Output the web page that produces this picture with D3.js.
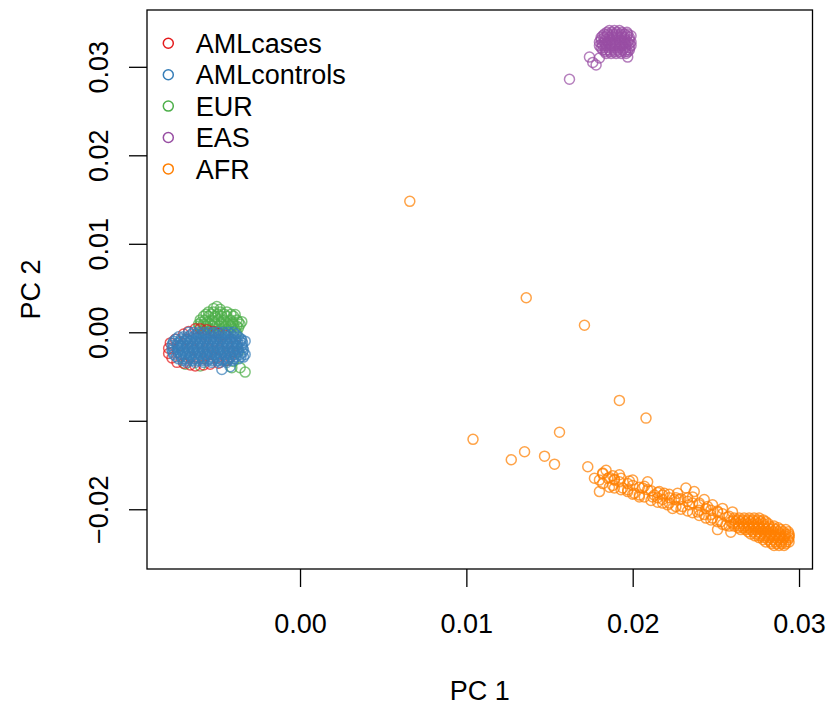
<!DOCTYPE html>
<html>
<head>
<meta charset="utf-8">
<script src="https://cdn.jsdelivr.net/npm/d3@7"></script>
<style>
  html, body { margin: 0; padding: 0; background: #fff; }
  svg text { font-family: "Liberation Sans", Arial, Helvetica, sans-serif; fill: #000; }
</style>
</head>
<body>
<div id="chart"></div>
<script>
// ============================================================
// Data: [PC1, PC2]
// ============================================================
const amlCases = [
    [-0.0079,-0.0018],[-0.0079,-0.0024],[-0.0078,-0.0012],[-0.0077,-0.0029],[-0.0075,-0.0008],[-0.0074,-0.0034],
    [-0.0070,-0.0002],[-0.0067,0.0001],[-0.0063,0.0004],[-0.0060,0.0004],[-0.0056,0.0003],[-0.0052,0.0001],[-0.0049,-0.0001],[-0.0045,-0.0003],
    [-0.0070,-0.0035],[-0.0066,-0.0037],[-0.0063,-0.0038],[-0.0058,-0.0037],[-0.0054,-0.0036],[-0.0049,-0.0035],[-0.0044,-0.0032],
    [-0.0072,-0.0015],[-0.0068,-0.0008],[-0.0064,-0.0020],[-0.0060,-0.0012],[-0.0056,-0.0025],[-0.0052,-0.0010],[-0.0048,-0.0020],
    [-0.0044,-0.0012],[-0.0040,-0.0022],[-0.0066,-0.0028],[-0.0058,-0.0030],[-0.0050,-0.0029],[-0.0042,-0.0028],[-0.0038,-0.0015]
];

const amlControls = [
    [-0.0067,0.0000],[-0.0064,0.0000],[-0.0061,0.0000],[-0.0058,0.0000],[-0.0055,0.0000],[-0.0052,0.0000],[-0.0049,0.0000],[-0.0046,0.0000],[-0.0043,0.0000],[-0.0040,0.0000],
    [-0.00655,-0.00025],[-0.00625,-0.00025],[-0.00595,-0.00025],[-0.00565,-0.00025],[-0.00535,-0.00025],[-0.00505,-0.00025],[-0.00475,-0.00025],[-0.00445,-0.00025],[-0.00415,-0.00025],[-0.00385,-0.00025],
    [-0.0073,-0.0005],[-0.0070,-0.0005],[-0.0067,-0.0005],[-0.0064,-0.0005],[-0.0061,-0.0005],[-0.0058,-0.0005],[-0.0055,-0.0005],[-0.0052,-0.0005],[-0.0049,-0.0005],[-0.0046,-0.0005],[-0.0043,-0.0005],[-0.0040,-0.0005],[-0.0037,-0.0005],
    [-0.00745,-0.00075],[-0.00715,-0.00075],[-0.00685,-0.00075],[-0.00655,-0.00075],[-0.00625,-0.00075],[-0.00595,-0.00075],[-0.00565,-0.00075],[-0.00535,-0.00075],[-0.00505,-0.00075],[-0.00475,-0.00075],[-0.00445,-0.00075],[-0.00415,-0.00075],[-0.00385,-0.00075],[-0.00355,-0.00075],
    [-0.0076,-0.0010],[-0.0072,-0.0010],[-0.0069,-0.0010],[-0.0066,-0.0010],[-0.0063,-0.0010],[-0.0060,-0.0010],[-0.0057,-0.0010],[-0.0054,-0.0010],[-0.0051,-0.0010],[-0.0048,-0.0010],[-0.0045,-0.0010],[-0.0042,-0.0010],[-0.0039,-0.0010],[-0.0036,-0.0010],[-0.0033,-0.0010],
    [-0.00765,-0.00125],[-0.00735,-0.00125],[-0.00705,-0.00125],[-0.00675,-0.00125],[-0.00645,-0.00125],[-0.00615,-0.00125],[-0.00585,-0.00125],[-0.00555,-0.00125],[-0.00525,-0.00125],[-0.00495,-0.00125],[-0.00465,-0.00125],[-0.00435,-0.00125],[-0.00405,-0.00125],[-0.00375,-0.00125],[-0.00345,-0.00125],
    [-0.0077,-0.0015],[-0.0074,-0.0015],[-0.0071,-0.0015],[-0.0068,-0.0015],[-0.0065,-0.0015],[-0.0062,-0.0015],[-0.0059,-0.0015],[-0.0056,-0.0015],[-0.0053,-0.0015],[-0.0050,-0.0015],[-0.0047,-0.0015],[-0.0044,-0.0015],[-0.0041,-0.0015],[-0.0038,-0.0015],[-0.0035,-0.0015],
    [-0.00765,-0.00175],[-0.00735,-0.00175],[-0.00705,-0.00175],[-0.00675,-0.00175],[-0.00645,-0.00175],[-0.00615,-0.00175],[-0.00585,-0.00175],[-0.00555,-0.00175],[-0.00525,-0.00175],[-0.00495,-0.00175],[-0.00465,-0.00175],[-0.00435,-0.00175],[-0.00405,-0.00175],[-0.00375,-0.00175],[-0.00345,-0.00175],
    [-0.0077,-0.0020],[-0.0073,-0.0020],[-0.0070,-0.0020],[-0.0067,-0.0020],[-0.0064,-0.0020],[-0.0061,-0.0020],[-0.0058,-0.0020],[-0.0055,-0.0020],[-0.0052,-0.0020],[-0.0049,-0.0020],[-0.0046,-0.0020],[-0.0043,-0.0020],[-0.0040,-0.0020],[-0.0037,-0.0020],[-0.0034,-0.0020],
    [-0.00765,-0.00225],[-0.00735,-0.00225],[-0.00705,-0.00225],[-0.00675,-0.00225],[-0.00645,-0.00225],[-0.00615,-0.00225],[-0.00585,-0.00225],[-0.00555,-0.00225],[-0.00525,-0.00225],[-0.00495,-0.00225],[-0.00465,-0.00225],[-0.00435,-0.00225],[-0.00405,-0.00225],[-0.00375,-0.00225],[-0.00345,-0.00225],
    [-0.0076,-0.0025],[-0.0072,-0.0025],[-0.0069,-0.0025],[-0.0066,-0.0025],[-0.0063,-0.0025],[-0.0060,-0.0025],[-0.0057,-0.0025],[-0.0054,-0.0025],[-0.0051,-0.0025],[-0.0048,-0.0025],[-0.0045,-0.0025],[-0.0042,-0.0025],[-0.0039,-0.0025],[-0.0036,-0.0025],[-0.0033,-0.0025],
    [-0.00745,-0.00275],[-0.00715,-0.00275],[-0.00685,-0.00275],[-0.00655,-0.00275],[-0.00625,-0.00275],[-0.00595,-0.00275],[-0.00565,-0.00275],[-0.00535,-0.00275],[-0.00505,-0.00275],[-0.00475,-0.00275],[-0.00445,-0.00275],[-0.00415,-0.00275],[-0.00385,-0.00275],[-0.00355,-0.00275],
    [-0.0073,-0.0030],[-0.0070,-0.0030],[-0.0067,-0.0030],[-0.0064,-0.0030],[-0.0061,-0.0030],[-0.0058,-0.0030],[-0.0055,-0.0030],[-0.0052,-0.0030],[-0.0049,-0.0030],[-0.0046,-0.0030],[-0.0043,-0.0030],[-0.0040,-0.0030],[-0.0037,-0.0030],
    [-0.00705,-0.0032],[-0.00675,-0.0032],[-0.00645,-0.0032],[-0.00615,-0.0032],[-0.00585,-0.0032],[-0.00555,-0.0032],[-0.00525,-0.0032],[-0.00495,-0.0032],[-0.00465,-0.0032],[-0.00435,-0.0032],[-0.00405,-0.0032],
    [-0.0068,-0.0034],[-0.0063,-0.0034],[-0.0058,-0.0034],[-0.0053,-0.0034],[-0.0048,-0.0034],[-0.0044,-0.0034],
    [-0.0047,-0.0042],[-0.0042,-0.0039],[-0.0035,-0.0009],[-0.0034,-0.0028]
];

const eur = [
    [-0.0050,0.0029],[-0.0052,0.0027],[-0.0048,0.0026],
    [-0.0055,0.0023],[-0.0052,0.0023],[-0.0048,0.0023],[-0.0044,0.0023],
    [-0.00565,0.00205],[-0.00535,0.00205],[-0.00495,0.00205],[-0.00455,0.00205],[-0.00415,0.00205],
    [-0.0058,0.0018],[-0.0055,0.0018],[-0.0051,0.0018],[-0.0047,0.0018],[-0.0044,0.0018],[-0.0040,0.0018],
    [-0.0060,0.0014],[-0.0057,0.0014],[-0.0053,0.0014],[-0.0049,0.0014],[-0.0046,0.0014],[-0.0042,0.0014],[-0.0038,0.0014],
    [-0.00595,0.00115],[-0.00555,0.00115],[-0.00515,0.00115],[-0.00475,0.00115],[-0.00445,0.00115],[-0.00405,0.00115],[-0.0037,0.00115],
    [-0.0061,0.0009],[-0.0058,0.0009],[-0.0054,0.0009],[-0.0051,0.0009],[-0.0047,0.0009],[-0.0043,0.0009],[-0.0040,0.0009],[-0.0036,0.0009],
    [-0.00605,0.0007],[-0.00565,0.0007],[-0.00525,0.0007],[-0.00485,0.0007],[-0.00445,0.0007],[-0.00415,0.0007],[-0.0038,0.0007],
    [-0.0060,0.0005],[-0.0055,0.0005],[-0.0051,0.0005],[-0.0046,0.0005],[-0.0041,0.0005],[-0.0037,0.0005],
    [-0.00585,0.0002],[-0.00535,0.0002],[-0.00485,0.0002],[-0.00435,0.0002],[-0.0039,0.0002],
    [-0.0057,-0.0001],[-0.0051,-0.0001],[-0.0045,-0.0001],[-0.0038,-0.0001],
    [-0.0039,0.0020],[-0.0035,0.0012],[-0.0033,-0.0045],[-0.0036,-0.0040],[-0.0041,-0.0040],
    [-0.0069,-0.0036],[-0.0060,-0.0038],[-0.0037,-0.0022],[-0.0040,-0.0033]
];

const eas = [
    [0.0186,0.0341],[0.0189,0.0341],[0.0192,0.0341],
    [0.01845,0.0339],[0.01875,0.0339],[0.01905,0.0339],[0.01935,0.0339],[0.01965,0.0339],
    [0.0183,0.0337],[0.0185,0.0337],[0.0188,0.0337],[0.0190,0.0337],[0.0193,0.0337],[0.0195,0.0337],[0.0197,0.0337],
    [0.0182,0.0335],[0.01845,0.0335],[0.01875,0.0335],[0.01905,0.0335],[0.01935,0.0335],[0.01965,0.0335],[0.0199,0.0335],
    [0.0181,0.0333],[0.0183,0.0333],[0.0186,0.0333],[0.0188,0.0333],[0.0191,0.0333],[0.0193,0.0333],[0.0195,0.0333],[0.0198,0.0333],
    [0.0181,0.03305],[0.01835,0.03305],[0.01865,0.03305],[0.01895,0.03305],[0.01925,0.03305],[0.01955,0.03305],[0.0198,0.03305],
    [0.0180,0.0328],[0.0183,0.0328],[0.0185,0.0328],[0.0188,0.0328],[0.0190,0.0328],[0.0192,0.0328],[0.0195,0.0328],[0.0197,0.0328],[0.0199,0.0328],
    [0.01815,0.0326],[0.01835,0.0326],[0.01865,0.0326],[0.01895,0.0326],[0.01925,0.0326],[0.01955,0.0326],[0.0198,0.0326],
    [0.0180,0.0324],[0.0182,0.0324],[0.0184,0.0324],[0.0187,0.0324],[0.0189,0.0324],[0.0192,0.0324],[0.0194,0.0324],[0.0196,0.0324],[0.0199,0.0324],
    [0.0181,0.03215],[0.01835,0.03215],[0.01865,0.03215],[0.01895,0.03215],[0.01925,0.03215],[0.01955,0.03215],[0.0198,0.03215],
    [0.0182,0.0319],[0.0184,0.0319],[0.0186,0.0319],[0.0189,0.0319],[0.0191,0.0319],[0.0194,0.0319],[0.0196,0.0319],[0.0198,0.0319],
    [0.01835,0.0317],[0.01865,0.0317],[0.01895,0.0317],[0.01925,0.0317],[0.01955,0.0317],[0.0197,0.0317],
    [0.0184,0.0315],[0.0187,0.0315],[0.0190,0.0315],[0.0193,0.0315],[0.0196,0.0315],
    [0.0176,0.0305],[0.0178,0.0302],[0.0174,0.0311],[0.0197,0.0311],[0.0180,0.0310],[0.0162,0.0286]
];

const afr = [
    // scattered points between the clusters
    [0.0066,0.0148],[0.0136,0.0039],[0.0171,0.0008],[0.0192,-0.0077],[0.0208,-0.0097],
    [0.0104,-0.0121],[0.0156,-0.0113],[0.0135,-0.0135],[0.0127,-0.0144],[0.0147,-0.0140],[0.0153,-0.0149],
    // tail of the cline
    [0.0173,-0.0152],[0.0182,-0.0159],[0.0180,-0.0167],[0.0188,-0.0162],[0.0192,-0.0161],[0.0180,-0.0180],
    [0.0188,-0.0173],[0.0192,-0.0169],[0.0194,-0.0176],[0.0198,-0.0168],[0.0197,-0.0178],[0.0201,-0.0182],
    [0.0206,-0.0176],[0.0209,-0.0169],[0.0209,-0.0178],[0.0212,-0.0186],[0.0215,-0.0192],[0.0216,-0.0180],
    [0.0219,-0.0182],[0.0222,-0.0187],[0.0227,-0.0182],[0.0232,-0.0176],[0.0228,-0.0189],[0.0230,-0.0197],
    [0.0224,-0.0199],[0.0236,-0.0186],[0.0240,-0.0193],[0.0239,-0.0203],[0.0245,-0.0197],[0.0247,-0.0206],
    [0.0251,-0.0203],[0.0253,-0.0214],[0.0260,-0.0203],[0.0257,-0.0209],[0.0251,-0.0223],[0.0259,-0.0226],
    [0.0234,-0.0195],[0.0243,-0.0189],[0.0248,-0.0195],[0.0254,-0.0199],[0.0237,-0.0180],[0.0225,-0.0189],
    [0.0218,-0.0189],[0.0204,-0.0184],[0.0200,-0.0173],[0.0185,-0.0165],[0.0177,-0.0165],[0.0184,-0.0156],
    [0.0189,-0.0167],[0.0213,-0.0184],[0.0221,-0.0195],[0.0233,-0.0187],[0.0240,-0.0201],[0.0248,-0.0210],
    [0.0256,-0.0218],[0.0243,-0.0206],
    [0.0182,-0.0160],[0.0182,-0.0171],[0.0186,-0.0164],[0.0186,-0.0175],[0.0189,-0.0166],[0.0189,-0.0176],
    [0.0193,-0.0165],[0.0193,-0.0178],[0.0197,-0.0171],[0.0197,-0.0180],[0.0200,-0.0167],[0.0200,-0.0183],
    [0.0204,-0.0175],[0.0204,-0.0186],[0.0207,-0.0174],[0.0207,-0.0186],[0.0211,-0.0179],[0.0211,-0.0190],
    [0.0215,-0.0181],[0.0215,-0.0187],[0.0218,-0.0184],[0.0218,-0.0193],[0.0222,-0.0183],[0.0222,-0.0193],
    [0.0226,-0.0187],[0.0226,-0.0197],[0.0229,-0.0188],[0.0229,-0.0200],[0.0233,-0.0191],[0.0233,-0.0202],
    [0.0236,-0.0193],[0.0236,-0.0204],[0.0240,-0.0195],[0.0240,-0.0207],[0.0244,-0.0199],[0.0244,-0.0210],
    [0.0247,-0.0201],[0.0247,-0.0212],[0.0251,-0.0202],[0.0251,-0.0214],[0.0254,-0.0205],[0.0254,-0.0217],
    [0.0258,-0.0208],[0.0258,-0.0219],
    // dense end of the cline
    [0.0261,-0.0210],[0.0264,-0.0210],[0.0267,-0.0210],[0.0270,-0.0210],[0.0273,-0.0210],[0.0276,-0.0210],
    [0.02605,-0.0212],[0.02635,-0.0212],[0.02665,-0.0212],[0.02695,-0.0212],[0.02725,-0.0212],[0.02755,-0.0212],[0.02785,-0.0212],
    [0.0259,-0.0214],[0.0262,-0.0214],[0.0265,-0.0214],[0.0268,-0.0214],[0.0271,-0.0214],[0.0274,-0.0214],[0.0277,-0.0214],[0.0280,-0.0214],
    [0.02605,-0.02165],[0.02635,-0.02165],[0.02665,-0.02165],[0.02695,-0.02165],[0.02725,-0.02165],[0.02755,-0.02165],[0.02785,-0.02165],[0.02815,-0.02165],
    [0.0261,-0.0219],[0.0264,-0.0219],[0.0267,-0.0219],[0.0270,-0.0219],[0.0273,-0.0219],[0.0276,-0.0219],[0.0279,-0.0219],[0.0282,-0.0219],[0.0285,-0.0219],
    [0.02635,-0.0221],[0.02665,-0.0221],[0.02695,-0.0221],[0.02725,-0.0221],[0.02755,-0.0221],[0.02785,-0.0221],[0.02815,-0.0221],[0.02845,-0.0221],[0.02875,-0.0221],
    [0.0265,-0.0223],[0.0268,-0.0223],[0.0271,-0.0223],[0.0274,-0.0223],[0.0277,-0.0223],[0.0280,-0.0223],[0.0283,-0.0223],[0.0286,-0.0223],[0.0289,-0.0223],[0.0292,-0.0223],
    [0.02695,-0.02255],[0.02725,-0.02255],[0.02755,-0.02255],[0.02785,-0.02255],[0.02815,-0.02255],[0.02845,-0.02255],[0.02875,-0.02255],[0.02905,-0.02255],[0.02935,-0.02255],
    [0.0271,-0.0228],[0.0274,-0.0228],[0.0277,-0.0228],[0.0280,-0.0228],[0.0283,-0.0228],[0.0286,-0.0228],[0.0289,-0.0228],[0.0292,-0.0228],[0.0294,-0.0228],
    [0.02735,-0.0230],[0.02765,-0.0230],[0.02795,-0.0230],[0.02825,-0.0230],[0.02855,-0.0230],[0.02885,-0.0230],[0.02915,-0.0230],[0.0294,-0.0230],
    [0.0276,-0.0232],[0.0279,-0.0232],[0.0282,-0.0232],[0.0285,-0.0232],[0.0288,-0.0232],[0.0291,-0.0232],[0.0294,-0.0232],
    [0.02785,-0.02345],[0.02815,-0.02345],[0.02845,-0.02345],[0.02875,-0.02345],[0.02905,-0.02345],[0.02935,-0.02345],
    [0.0280,-0.0237],[0.0283,-0.0237],[0.0286,-0.0237],[0.0289,-0.0237],[0.0292,-0.0237],[0.0294,-0.0237],
    [0.02835,-0.0239],[0.02865,-0.0239],[0.02895,-0.0239],[0.0292,-0.0239],
    [0.0285,-0.0241],[0.0288,-0.0241],[0.0291,-0.0241]
];

// legend order; drawOrder decides what sits on top in the left cluster
const groupNames = ['AMLcases', 'AMLcontrols', 'EUR', 'EAS', 'AFR'];
const groupColors = ['#E41A1C', '#377EB8', '#4DAF4A', '#984EA3', '#FF7F00'];
const groupData = [amlCases, amlControls, eur, eas, afr];
const drawOrder = [2, 0, 1, 3, 4];

const xTicks = [0, 0.01, 0.02, 0.03];
const xTickLabels = ['0.00', '0.01', '0.02', '0.03'];
const yTicks = [-0.02, -0.01, 0, 0.01, 0.02, 0.03];
const yTickLabels = ['\u22120.02', '', '0.00', '0.01', '0.02', '0.03'];   // R drops the -0.01 label (overlap)

// ============================================================
// Layout
// ============================================================
const W = 833, H = 711;
const box = { left: 147, right: 812.5, top: 10, bottom: 569 };
const FONT = 27;
const POINT_R = 5;

const x = d3.scaleLinear().domain([-0.0092, 0.03081]).range([box.left, box.right]);
const y = d3.scaleLinear().domain([-0.02675, 0.03642]).range([box.bottom, box.top]);

const svg = d3.select('#chart')
    .append('svg')
    .attr('width', W)
    .attr('height', H);

// points
drawOrder.forEach(gi => {
    svg.append('g')
        .attr('class', 'points')
        .selectAll('circle')
        .data(groupData[gi])
        .join('circle')
        .attr('cx', d => x(d[0]))
        .attr('cy', d => y(d[1]))
        .attr('r', POINT_R)
        .attr('fill', 'none')
        .attr('stroke', groupColors[gi])
        .attr('stroke-opacity', 0.72)
        .attr('stroke-width', 1.5);
});

// box
svg.append('rect')
    .attr('x', box.left)
    .attr('y', box.top)
    .attr('width', box.right - box.left)
    .attr('height', box.bottom - box.top)
    .attr('fill', 'none')
    .attr('stroke', '#000')
    .attr('stroke-width', 1.3);

// x axis
const xAxis = svg.append('g')
    .attr('transform', `translate(0, ${box.bottom})`)
    .call(d3.axisBottom(x)
        .tickValues(xTicks)
        .tickFormat((d, i) => xTickLabels[i])
        .tickSize(18)
        .tickPadding(27));
xAxis.select('.domain').remove();
xAxis.selectAll('line').attr('stroke', '#000').attr('stroke-width', 1.3);
xAxis.selectAll('text')
    .attr('font-size', FONT)
    .attr('fill', '#000');
xAxis.attr('font-family', null).attr('font-size', null);

// y axis
const yAxis = svg.append('g')
    .attr('transform', `translate(${box.left}, 0)`)
    .call(d3.axisLeft(y)
        .tickValues(yTicks)
        .tickFormat((d, i) => yTickLabels[i])
        .tickSize(18));
yAxis.select('.domain').remove();
yAxis.selectAll('line').attr('stroke', '#000').attr('stroke-width', 1.3);
yAxis.selectAll('text')
    .attr('x', null)
    .attr('dy', null)
    .attr('text-anchor', 'middle')
    .attr('transform', 'translate(-39, 0) rotate(-90)')
    .attr('font-size', FONT)
    .attr('fill', '#000');
yAxis.attr('font-family', null).attr('font-size', null);

// axis titles
svg.append('text')
    .attr('x', (box.left + box.right) / 2)
    .attr('y', 700)
    .attr('text-anchor', 'middle')
    .attr('font-size', FONT)
    .text('PC 1');

svg.append('text')
    .attr('transform', `translate(40, ${(box.top + box.bottom) / 2}) rotate(-90)`)
    .attr('text-anchor', 'middle')
    .attr('font-size', FONT)
    .text('PC 2');

// legend (no frame, like bty = "n")
const legend = svg.append('g').attr('class', 'legend');
groupNames.forEach((name, i) => {
    const ly = 43.3 + i * 31.4;
    legend.append('circle')
        .attr('cx', 168.3)
        .attr('cy', ly)
        .attr('r', POINT_R)
        .attr('fill', 'none')
        .attr('stroke', groupColors[i])
        .attr('stroke-width', 1.5);
    legend.append('text')
        .attr('x', 195.7)
        .attr('y', ly + 9.7)
        .attr('font-size', FONT)
        .text(name);
});
</script>
</body>
</html>
